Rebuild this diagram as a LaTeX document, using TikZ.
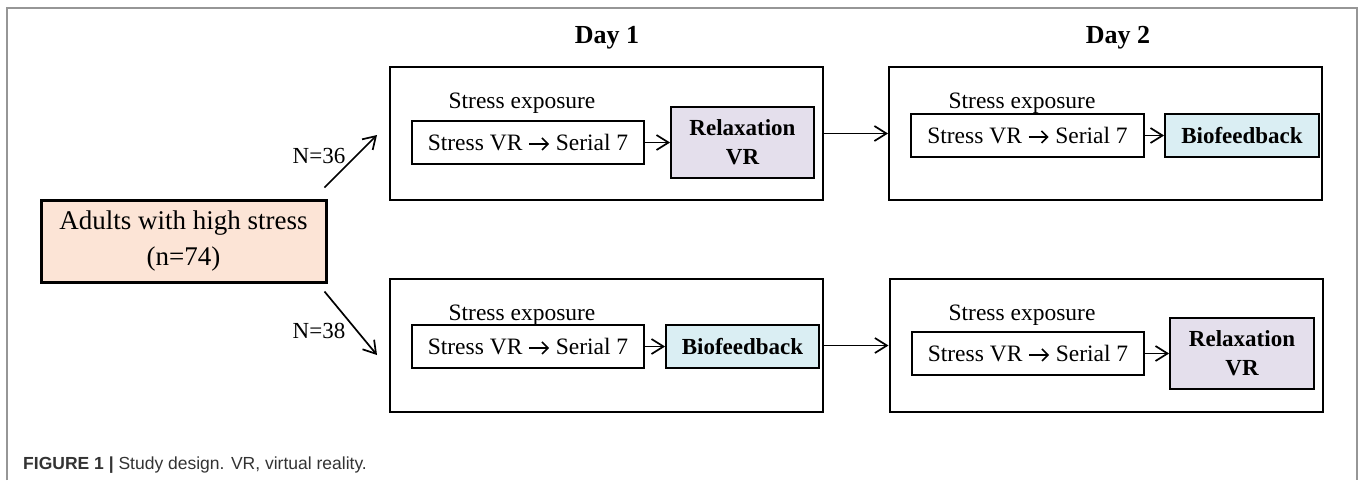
\documentclass[tikz,border=0pt]{standalone}
\usepackage{fontspec}
\setmainfont{Liberation Serif}
\setsansfont{Liberation Sans}
\usetikzlibrary{arrows.meta,calc}
\definecolor{peach}{RGB}{252,228,214}
\definecolor{lavender}{RGB}{228,223,236}
\definecolor{paleblue}{RGB}{218,238,243}
\definecolor{framegray}{RGB}{150,150,150}
\definecolor{captiongray}{RGB}{51,51,51}
\newcommand{\txtarrow}{\tikz[baseline=0pt,x=1pt,y=1pt]{\path (0,0) rectangle (21,13);
  \draw[line width=1.6pt, -{Straight Barb[length=6pt,width=12pt,line width=1.6pt]}] (0.5,6.5) -- (20.5,6.5);}}
\begin{document}
\begin{tikzpicture}[x=1pt,y=-1pt,
  daybox/.style={draw, line width=2pt, inner sep=0pt, minimum width=433pt, minimum height=133pt},
  stressbox/.style={draw, line width=1.8pt, inner sep=0pt, minimum width=232pt, minimum height=43pt,
    font=\fontsize{23.5}{28}\selectfont},
  relaxbox/.style={draw, line width=1.8pt, fill=lavender, inner sep=0pt, minimum width=143pt, minimum height=71pt,
    align=center, font=\fontsize{23}{29}\selectfont\bfseries},
  biobox/.style={draw, line width=1.8pt, fill=paleblue, inner sep=0pt, minimum width=154pt, minimum height=43pt,
    font=\fontsize{23}{28}\selectfont\bfseries},
  explabel/.style={anchor=base, inner sep=0pt, font=\fontsize{23.5}{28}\selectfont},
  daylabel/.style={anchor=base, inner sep=0pt, font=\fontsize{26}{30}\selectfont\bfseries},
  nlabel/.style={anchor=base, inner sep=0pt, font=\fontsize{23}{28}\selectfont},
  conn/.style={line width=1.7pt, -{Straight Barb[length=12pt,width=15pt,line width=1.7pt]}}
]
\useasboundingbox (0,0) rectangle (1358,480);
% outer frame
\draw[framegray, line width=1.6pt] (7,480) -- (7,8) -- (1357,8) -- (1357,480);

% day labels
\node[daylabel] (day1) at (607,43) {Day 1};
\node[daylabel] (day2) at (1118,43) {Day 2};

% source
\node[draw, line width=3pt, fill=peach, inner sep=0pt, minimum width=285pt, minimum height=82pt,
  align=center, font=\fontsize{27}{36}\selectfont] (adults) at (183.5,241) {Adults with high stress\\(n=74)};

% day boxes
\node[daybox] (d1t) at (606.5,133.5) {};
\node[daybox] (d2t) at (1105.5,133.5) {};
\node[daybox] (d1b) at (606.5,345.5) {};
\node[daybox] (d2b) at (1106,345.5) {};

% top row, day 1
\node[explabel] (e1t) at (522,108) {Stress exposure};
\node[stressbox] (s1t) at (528,142.5) {Stress VR \txtarrow{} Serial 7};
\node[relaxbox] (r1t) at (742.5,142.5) {Relaxation\\VR};
% top row, day 2
\node[explabel] (e2t) at (1022,108) {Stress exposure};
\node[stressbox, minimum width=233pt] (s2t) at (1027.5,135.5) {Stress VR \txtarrow{} Serial 7};
\node[biobox] (b2t) at (1242,135.5) {Biofeedback};
% bottom row, day 1
\node[explabel] (e1b) at (522,320) {Stress exposure};
\node[stressbox] (s1b) at (528,346.5) {Stress VR \txtarrow{} Serial 7};
\node[biobox, minimum width=153pt] (b1b) at (742.5,346.5) {Biofeedback};
% bottom row, day 2
\node[explabel] (e2b) at (1022,320) {Stress exposure};
\node[stressbox] (s2b) at (1028,353.5) {Stress VR \txtarrow{} Serial 7};
\node[relaxbox, minimum width=144pt] (r2b) at (1242,353.5) {Relaxation\\VR};

% connectors
\draw[conn] (s1t.east) -- (r1t.west);
\draw[conn] (s2t.east) -- (b2t.west);
\draw[conn] (s1b.east) -- (b1b.west);
\draw[conn] (s2b.east) -- (r2b.west);
\draw[conn] (d1t.east) -- (d2t.west);
\draw[conn] (d1b.east) -- (d2b.west);

\coordinate (a1) at ($(adults.north east)+(-3,-11)$);
\coordinate (t1) at ($(d1t.west)+(-12,1.5)$);
\coordinate (a2) at ($(adults.south east)+(-3,8)$);
\coordinate (t2) at ($(d1b.west)+(-12,9.5)$);
\draw[conn] (a1) -- (t1);
\draw[conn] (a2) -- (t2);
\node[nlabel] (n36) at (319,163) {N=36};
\node[nlabel] (n38) at (319,338) {N=38};

% caption
\node[anchor=base west, inner sep=0pt, text=captiongray, font=\sffamily\fontsize{17.5}{21}\selectfont] (cap) at (23,469)
  {\textbf{FIGURE 1 |} Study design. VR, virtual reality.};
\end{tikzpicture}
\end{document}
